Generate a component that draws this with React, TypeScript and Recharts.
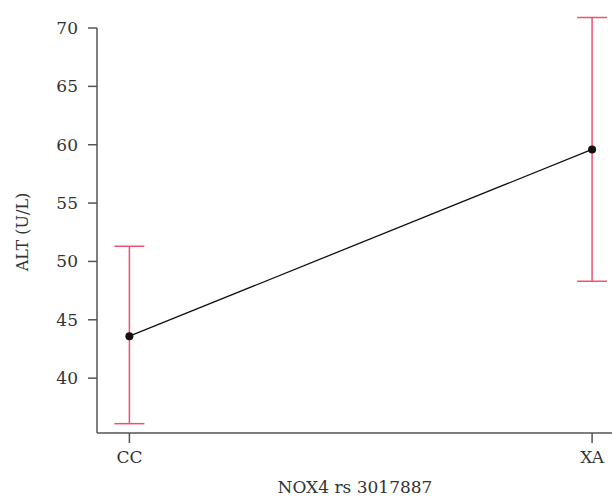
import { ComposedChart, Line, XAxis, YAxis, ErrorBar, ReferenceLine, Label } from "recharts"

const genotypes = ["CC", "XA"]
const altMeans = [43.6, 59.6]
const altErrLow = [7.5, 11.3]
const altErrHigh = [7.7, 11.3]
const yTicks = [40, 45, 50, 55, 60, 65, 70]

const data = genotypes.map((g, i) => ({
  idx: i,
  genotype: g,
  alt: altMeans[i],
  err: [altErrLow[i], altErrHigh[i]],
}))

const font = "'DejaVu Serif', 'Liberation Serif', serif"
const axisColor = "#555555"
const textColor = "#333333"
const xMin = -0.07
const yMin = 35.3

export default function App() {
  return (
    <div style={{ position: "absolute", left: 0, top: 0, background: "#ffffff" }}>
      <ComposedChart
        width={612}
        height={497}
        data={data}
        margin={{ top: 14, right: 0, bottom: 0, left: 0 }}
      >
        <XAxis
          dataKey="idx"
          type="number"
          domain={[xMin, 1.043]}
          ticks={[0, 1]}
          tickFormatter={(v) => genotypes[v] ?? ""}
          height={64}
          stroke={axisColor}
          strokeWidth={1.5}
          tickSize={10}
          tickMargin={8}
          tick={{ fill: textColor, fontSize: 17, fontFamily: font }}
          allowDataOverflow
        >
          <Label
            content={() => (
              <text x={355} y={493} textAnchor="middle" fill={textColor} fontSize={17} fontFamily={font}>
                NOX4 rs 3017887
              </text>
            )}
          />
        </XAxis>
        <YAxis
          type="number"
          domain={[yMin, 71.2]}
          ticks={yTicks}
          width={97}
          axisLine={false}
          tickLine={{ stroke: axisColor, strokeWidth: 1.5 }}
          tickSize={9}
          tickMargin={10}
          tick={{ fill: textColor, fontSize: 17, fontFamily: font }}
          allowDataOverflow
        >
          <Label
            content={() => (
              <text
                x={22}
                y={232}
                transform="rotate(-90, 22, 232)"
                textAnchor="middle"
                dominantBaseline="central"
                fill={textColor}
                fontSize={16}
                fontFamily={font}
              >
                ALT (U/L)
              </text>
            )}
          />
        </YAxis>
        <ReferenceLine
          segment={[
            { x: xMin, y: yMin },
            { x: xMin, y: 70 },
          ]}
          stroke={axisColor}
          strokeWidth={1.5}
          ifOverflow="visible"
        />
        <Line
          dataKey="alt"
          type="linear"
          stroke="#111111"
          strokeWidth={1.3}
          dot={{ r: 4, fill: "#111111", stroke: "#111111", strokeWidth: 0 }}
          isAnimationActive={false}
        >
          <ErrorBar dataKey="err" direction="y" width={15} stroke="#f0506e" strokeWidth={1.5} />
        </Line>
      </ComposedChart>
    </div>
  )
}
